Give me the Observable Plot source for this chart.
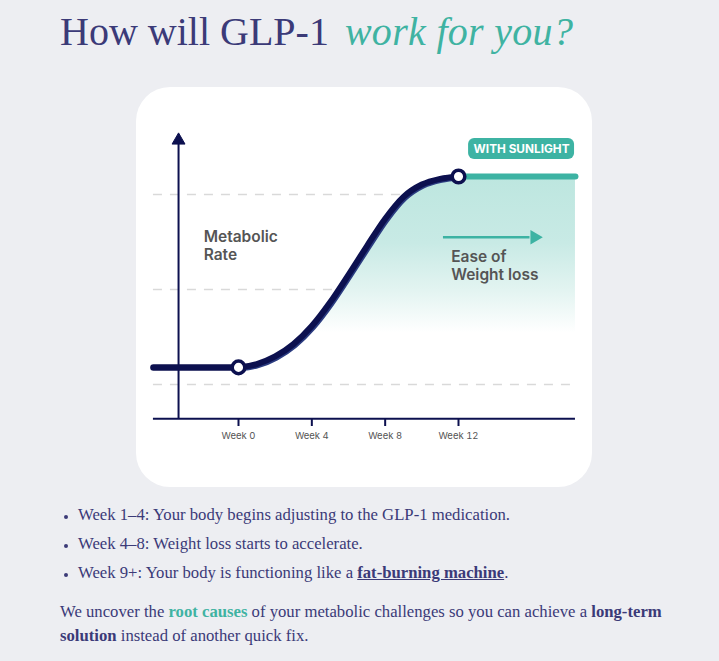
<!DOCTYPE html>
<html>
<head>
<meta charset="utf-8">
<script src="https://cdn.jsdelivr.net/npm/d3@7"></script>
<script src="https://cdn.jsdelivr.net/npm/@observablehq/plot@0.6"></script>
<style>
  html, body { margin: 0; padding: 0; }
  body { width: 719px; height: 661px; background: #edeef2; position: relative; overflow: hidden;
         font-family: "Liberation Serif", "DejaVu Serif", serif; color: #3b3a78; }
  #title { position: absolute; left: 60px; top: 8px; font-size: 40px; line-height: 48px; white-space: nowrap; color: #3b3a78; }
  #title em { color: #3fb3a2; margin-left: 6px; letter-spacing: 0.3px; }
  #card { position: absolute; left: 136px; top: 87px; width: 456px; height: 400px; background: #fff; border-radius: 34px; overflow: hidden; }
  #card svg { position: absolute; left: 0; top: 0; }
  ul { position: absolute; left: 60px; top: 500px; margin: 0; padding: 0 0 0 18px; font-size: 16.7px; line-height: 29px; }
  li::marker { font-size: 12px; }
  #para { position: absolute; left: 60px; top: 600px; font-size: 16.7px; line-height: 24px; margin: 0; white-space: nowrap; }
  .teal { color: #3fb3a2; font-weight: bold; }
  .u { font-weight: bold; text-decoration: underline; }
</style>
</head>
<body>
<div id="title">How will GLP-1 <em>work for you?</em></div>
<div id="card"></div>
<ul>
  <li>Week 1–4: Your body begins adjusting to the GLP-1 medication.</li>
  <li>Week 4–8: Weight loss starts to accelerate.</li>
  <li>Week 9+: Your body is functioning like a <span class="u">fat-burning machine</span>.</li>
</ul>
<p id="para">We uncover the <span class="teal">root causes</span> of your metabolic challenges so you can achieve a <b>long-term</b><br><b>solution</b> instead of another quick fix.</p>
<script>
// ---- data (weeks vs. metabolic rate, arbitrary units) ----
const curveWeeks = [0, 1, 2, 3, 4, 5, 6, 7, 8, 9, 10, 11, 12];
const curveRate  = [11.8, 12.15, 12.95, 14.25, 16.15, 18.65, 21.55, 24.55, 27.45, 29.75, 31.05, 31.65, 31.9];
const preWeeks = [-4.64, 0];
const preRate = [11.8, 11.8];
const plateauWeeks = [12, 18.38];
const plateauRate = [31.9, 31.9];
const milestoneWeeks = [0, 12];
const milestoneRate = [11.8, 31.9];
const gridRates = [10, 20, 30];
const tickWeeks = [0, 4, 8, 12];
const tickLabels = ["Week 0", "Week 4", "Week 8", "Week 12"];
const axisStartWeek = -4.64, axisEndWeek = 18.38, axisBaseRate = 6.4;
const yAxisWeek = -3.27, yAxisTopRate = 35.6;
const arrowWeeks = [11.18, 15.9];
const arrowRate = 25.5;
const arrowHeadWeek = 16.15;
const badge = {x1: 12.55, x2: 18.33, y1: 33.68, y2: 35.9, label: "WITH SUNLIGHT", x: 15.44, y: 34.74};
const labelMetabolic = {x: -1.9, y: 24.7, text: "Metabolic\nRate"};
const labelEase = {x: 11.6, y: 22.6, text: "Ease of\nWeight loss"};

const curveData = curveWeeks.map((w, i) => ({week: w, rate: curveRate[i]}));
const areaData = curveData.concat([{week: plateauWeeks[1], rate: plateauRate[1]}]);
const preData = preWeeks.map((w, i) => ({week: w, rate: preRate[i]}));
const plateauData = plateauWeeks.map((w, i) => ({week: w, rate: plateauRate[i]}));
const milestones = milestoneWeeks.map((w, i) => ({week: w, rate: milestoneRate[i]}));

const navy = "#0c104f";
const teal = "#3db3a3";
const labelFont = "Inter, 'Noto Sans', sans-serif";

const gradient = () => {
  const defs = d3.create("svg:defs");
  const g = defs.append("linearGradient").attr("id", "ease").attr("x1", 0).attr("x2", 0).attr("y1", 0).attr("y2", 1);
  g.append("stop").attr("offset", "0").attr("stop-color", "#bde6df");
  g.append("stop").attr("offset", "0.35").attr("stop-color", "#c8eae5");
  g.append("stop").attr("offset", "0.6").attr("stop-color", "#e3f4f1");
  g.append("stop").attr("offset", "0.82").attr("stop-color", "#ffffff");
  return defs.node();
};

const chart = Plot.plot({
  width: 456,
  height: 400,
  marginBottom: 69,
  style: {fontFamily: labelFont, background: "transparent", overflow: "visible"},
  x: {domain: [0, 12], range: [102, 322], axis: null},
  y: {domain: [0, 40], range: [392, 12], axis: null},
  marks: [
    gradient,
    Plot.ruleY(gridRates, {x1: axisStartWeek, x2: axisEndWeek, stroke: "#d9d9d9", strokeWidth: 1.6, strokeDasharray: "9,8"}),
    Plot.areaY(areaData, {x: "week", y1: 11.8, y2: "rate", curve: "monotone-x", fill: "url(#ease)"}),
    Plot.ruleY([axisBaseRate], {x1: axisStartWeek, x2: axisEndWeek, stroke: navy, strokeWidth: 2}),
    Plot.ruleX([yAxisWeek], {y1: axisBaseRate, y2: yAxisTopRate, stroke: navy, strokeWidth: 2}),
    Plot.dot([{week: yAxisWeek, rate: 35.7}], {x: "week", y: "rate", symbol: "triangle", r: 4.8, fill: navy, stroke: navy, strokeWidth: 1}),
    Plot.axisX(tickWeeks, {anchor: "bottom", tickSize: 8, tickPadding: 6, stroke: navy, strokeWidth: 2,
      tickFormat: (d, i) => tickLabels[i], fontSize: 9.5, fill: "#555"}),
    Plot.line(plateauData, {x: "week", y: "rate", stroke: teal, strokeWidth: 6}),
    Plot.line(preData, {x: "week", y: "rate", stroke: navy, strokeWidth: 6.5}),
    Plot.line(curveData, {x: "week", y: "rate", curve: "monotone-x", stroke: "#2b3c80", strokeWidth: 6.5, dx: 1.2, dy: 0.8}),
    Plot.line(curveData, {x: "week", y: "rate", curve: "monotone-x", stroke: navy, strokeWidth: 6}),
    Plot.dot(milestones, {x: "week", y: "rate", r: 6.3, fill: "white", stroke: navy, strokeWidth: 3.5}),
    Plot.rect([badge], {x1: "x1", x2: "x2", y1: "y1", y2: "y2", fill: teal, rx: 6}),
    Plot.text([badge], {x: "x", y: "y", text: "label", fill: "white", fontSize: 11.8, fontWeight: 700}),
    Plot.ruleY([arrowRate], {x1: arrowWeeks[0], x2: arrowWeeks[1], stroke: teal, strokeWidth: 2.5}),
    Plot.dot([{week: arrowHeadWeek, rate: arrowRate}], {x: "week", y: "rate", symbol: "triangle", r: 5.3, fill: teal, rotate: 90}),
    Plot.text([labelMetabolic], {x: "x", y: "y", text: "text", textAnchor: "start", fontSize: 15.5, fontWeight: 600, fill: "#555", lineHeight: 1.18}),
    Plot.text([labelEase], {x: "x", y: "y", text: "text", textAnchor: "start", fontSize: 15.5, fontWeight: 600, fill: "#555", lineHeight: 1.18})
  ]
});
document.getElementById("card").appendChild(chart);
</script>
</body>
</html>
